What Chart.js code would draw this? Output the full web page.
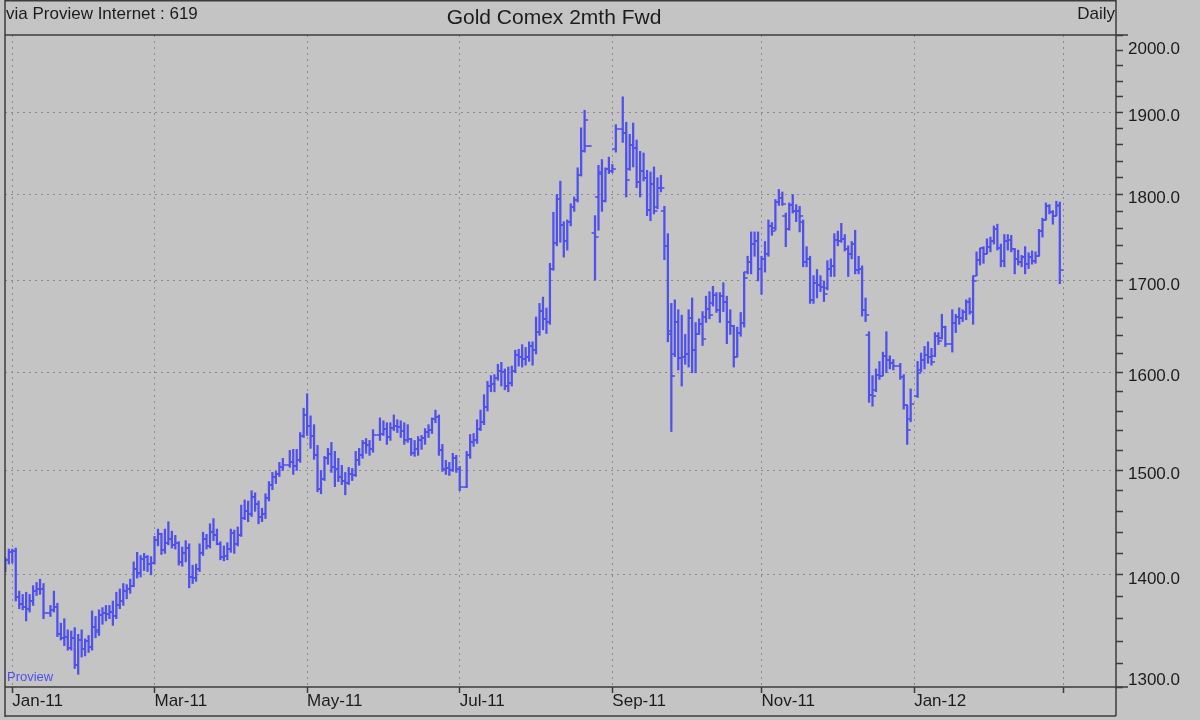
<!DOCTYPE html>
<html>
<head>
<meta charset="utf-8">
<title>Gold Comex 2mth Fwd</title>
<script src="https://cdn.jsdelivr.net/npm/chart.js@4.4.1/dist/chart.umd.min.js"></script>
<style>
  html, body { margin: 0; padding: 0; background: #c4c4c4; }
  #wrap { width: 1200px; height: 720px; }
</style>
</head>
<body>
<div id="wrap"><canvas id="myChart" width="1200" height="720"></canvas></div>
<script>
// Daily bars, one entry per weekday from 30-Dec-2010 to 29-Feb-2012 (null = no bar)
var opens = [
  1405,1414, // Dec-10
  1421,1422,1380,1373,1371,1369,1376,1385,1387,1387,null,1365,1368,1371,1346,1343,1344,1334,1343,1319,1341, // Jan-11
  1333,1340,1335,1353,1350,1363,1365,1364,1366,1362,1372,1376,1385,1387,1390,1405,1402,1415,1417,1410, // Feb-11
  1411,1433,1438,1423,1430,1434,1428,1430,1412,1420,1425,1398,1397,1405,1420,1434,1427,1440,1437,1429,1417,1418,1424, // Mar-11
  1439,1429,1437,1454,1460,1457,1474,1467,1455,1457,1473,1486,1493,1496,1503,null,1505,1508,1504,1510,1535, // Apr-11
  1556,1545,1535,1515,1482,1492,1512,1516,1503,1501,1493,1490,1488,1496,1495,1510,1515,1527,1525,1521,null,1536, // May-11
  1537,1542,1533,1543,1545,1544,1540,1530,1531,1517,1521,1530,1532,1539,1541,1552,1554,1520,1501,1502,1500,1512, // Jun-11
  1501,null,1484,1515,1528,1530,1542,1549,1564,1586,1588,1594,1602,1601,1586,1589,1602,1619,1617,1615,1617, // Jul-11
  1628,1624,1644,1667,1658,1654,1713,1743,1795,1764,1746,1767,1785,1793,1823,1852,1858,null,1755,1797,1825,1792,1830, // Aug-11
  1828,1855,null,1880,1874,1830,1860,1856,1815,1828,1820,1782,1813,1785,1808,1780,1740,1645,1620,1654,1616,1617, // Sep-11
  1620,1659,1624,1642,1652,1660,1669,1675,1684,1668,1683,1676,1654,1650,1617,1643,1653,1710,1721,1742,1745, // Oct-11
  1714,1725,1730,1763,1760,1791,1796,1775,1759,1788,1780,1781,1768,1721,1725,1679,1698,1695,1693,1692,1714,1717, // Nov-11
  1747,1746,1748,1736,1731,1742,1712,1713,1668,1640,1577,1582,1598,1597,1618,1613,1610,null,1607,1595,1566,1552, // Dec-11
  null,1576,1603,1613,1619,1617,1618,1639,1637,1649,null,1631,1653,1660,1659,1665,1676,1666,1706,1724,1737,1731, // Jan-12
  1739,1746,1759,1738,1723,1745,1747,1736,1725,1722,1727,1719,1727,1723,1728,1757,1770,1786,1779,1775,1788 // Feb-12
];
var highs = [
  1416,1424,
  1424,1425,1385,1382,1384,1382,1390,1393,1396,1392,null,1372,1385,1374,1356,1360,1350,1349,1352,1346,1350,
  1342,1345,1367,1362,1368,1370,1372,1372,1376,1384,1387,1392,1391,1396,1412,1421,1418,1420,1418,1417,
  1436,1443,1439,1443,1450,1441,1437,1431,1426,1432,1429,1409,1410,1429,1440,1438,1448,1453,1443,1431,1427,1430,1443,
  1442,1445,1466,1471,1470,1480,1478,1470,1463,1477,1489,1498,1499,1508,1512,null,1520,1521,1521,1538,1563,
  1578,1555,1546,1525,1500,1514,1522,1528,1519,1512,1505,1498,1503,1502,1519,1522,1530,1532,1530,1541,null,1553,
  1550,1548,1548,1556,1551,1550,1548,1546,1532,1530,1534,1535,1542,1546,1553,1561,1556,1526,1510,1508,1517,1515,
  1504,null,1519,1536,1537,1551,1561,1577,1591,1597,1598,1609,1611,1604,1606,1607,1624,1625,1630,1627,1633,
  1633,1660,1675,1682,1670,1720,1779,1800,1816,1768,1770,1789,1797,1832,1881,1903,1858,null,1775,1835,1842,1832,1845,
  1836,1885,null,1920,1888,1873,1887,1866,1852,1850,1829,1827,1833,1820,1823,1786,1754,1675,1679,1668,1662,1641,
  1668,1681,1654,1658,1666,1683,1688,1694,1687,1687,1698,1683,1668,1651,1649,1665,1710,1728,1756,1756,1756,
  1728,1745,1770,1767,1794,1806,1803,1778,1790,1800,1788,1786,1770,1739,1728,1706,1713,1706,1700,1723,1725,1754,
  1757,1766,1753,1740,1745,1758,1728,1717,1681,1644,1597,1604,1612,1622,1644,1618,1614,null,1610,1598,1566,1583,
  null,1612,1621,1628,1633,1626,1643,1643,1663,1650,null,1668,1663,1670,1668,1679,1681,1706,1733,1737,1739,1748,
  1750,1763,1765,1742,1753,1753,1752,1737,1735,1729,1739,1732,1734,1733,1759,1772,1790,1788,1781,1792,1791
];
var lows = [
  1403,1410,
  1411,1376,1369,1368,1358,1366,1372,1381,1382,1360,null,1362,1366,1344,1341,1336,1332,1332,1316,1311,1326,
  1327,1330,1332,1343,1345,1355,1358,1360,1354,1360,1369,1372,1378,1383,1389,1397,1398,1404,1403,1400,
  1410,1427,1419,1420,1428,1425,1424,1409,1408,1412,1388,1392,1394,1403,1418,1424,1425,1432,1428,1414,1413,1414,1421,
  1420,1427,1436,1452,1450,1455,1460,1448,1450,1453,1470,1481,1487,1494,1500,null,1503,1496,1500,1508,1533,
  1535,1522,1511,1479,1477,1490,1506,1498,1484,1489,1486,1476,1486,1490,1494,1505,1512,1517,1515,1518,null,1530,
  1535,1526,1530,1540,1538,1533,1526,1528,1515,1514,1515,1521,1526,1533,1537,1548,1515,1499,1496,1495,1499,1498,
  1480,null,1483,1512,1524,1527,1540,1546,1560,1580,1580,1592,1586,1582,1580,1586,1600,1607,1606,1608,1612,
  1608,1620,1640,1646,1642,1652,1712,1740,1744,1727,1735,1763,1780,1791,1822,1851,1858,null,1701,1758,1780,1791,1825,
  1826,1851,null,1863,1797,1829,1833,1808,1797,1816,1775,1769,1777,1783,1803,1724,1633,1539,1617,1603,1586,1609,
  1606,1600,1600,1641,1629,1654,1658,1672,1665,1654,1666,1631,1641,1606,1617,1639,1649,1708,1708,1728,1700,
  1685,1710,1728,1752,1758,1787,1787,1739,1758,1778,1768,1756,1716,1716,1675,1675,1681,1688,1677,1690,1705,1705,
  1740,1744,1734,1705,1725,1708,1708,1661,1655,1569,1565,1580,1593,1597,1600,1604,1603,null,1593,1562,1526,1549,
  null,1574,1601,1604,1610,1608,1617,1630,1636,1628,null,1622,1643,1652,1655,1657,1663,1652,1706,1718,1720,1731,
  1733,1742,1735,1716,1716,1735,1733,1708,1718,1716,1708,1714,1719,1720,1728,1750,1770,1777,1765,1775,1697
];
var closes = [
  1414,1421,
  1422,1380,1373,1371,1369,1376,1385,1387,1387,1365,null,1368,1371,1346,1343,1344,1334,1343,1319,1341,1333,
  1340,1335,1353,1348,1363,1365,1364,1366,1362,1372,1376,1385,1387,1390,1405,1402,1415,1417,1410,1411,
  1433,1438,1423,1430,1434,1428,1430,1412,1420,1425,1398,1397,1405,1420,1434,1427,1440,1437,1429,1417,1418,1424,1439,
  1429,1437,1454,1460,1457,1474,1467,1455,1457,1473,1486,1493,1496,1503,1505,null,1508,1504,1510,1535,1556,
  1545,1535,1515,1482,1492,1512,1516,1503,1501,1493,1490,1488,1496,1495,1510,1515,1527,1525,1521,1536,null,1537,
  1542,1533,1543,1545,1544,1540,1530,1531,1517,1521,1530,1532,1539,1541,1552,1554,1520,1501,1502,1500,1512,1501,
  1484,null,1515,1528,1530,1542,1549,1564,1586,1588,1594,1602,1601,1586,1589,1602,1619,1617,1615,1617,1628,
  1624,1644,1667,1658,1654,1713,1743,1795,1764,1746,1767,1785,1793,1823,1852,1891,1858,null,1750,1827,1792,1830,1828,
  1830,1879,null,1874,1817,1860,1856,1815,1828,1820,1782,1813,1780,1808,1808,1740,1641,1597,1654,1616,1617,1620,
  1659,1624,1642,1652,1636,1669,1662,1684,1668,1683,1676,1654,1650,1617,1643,1653,1703,1721,1742,1745,1714,
  1725,1730,1763,1757,1791,1796,1789,1759,1788,1780,1781,1775,1721,1725,1679,1698,1695,1693,1685,1714,1717,1747,
  1746,1748,1736,1731,1742,1712,1713,1668,1662,1577,1576,1598,1597,1618,1613,1610,1607,null,1595,1566,1541,1567,
  null,1600,1613,1619,1617,1611,1639,1634,1649,1631,null,1653,1660,1659,1665,1676,1666,1700,1724,1737,1731,1739,
  1746,1759,1738,1723,1745,1747,1736,1725,1722,1727,1719,1727,1723,1728,1757,1770,1786,1779,1775,1786,1712
];

// x axis: bar index of the first weekday of every second month
var monthTickIdx  = [2, 43, 87, 131, 175, 218, 262, 305];
var monthTickText = ['Jan-11', 'Mar-11', 'May-11', 'Jul-11', 'Sep-11', 'Nov-11', 'Jan-12', ''];

// y axis (log): labelled every 100, small ticks every 20
var yLabels = [1300, 1400, 1500, 1600, 1700, 1800, 1900, 2000];
var yMin = 1300, yMax = 2000, yMinorStep = 20;

var barColor = '#5050ee';
var bgColor = '#c4c4c4';
var lineColor = '#3c3c3c';
var gridColor = '#8a8a8a';
var textColor = '#1c1c1c';
var font = 'Liberation Sans';

// small canvases used as point styles for the open / close ticks
function tickImage(side) {
  var cv = document.createElement('canvas');
  cv.width = 9;
  cv.height = 2;
  var g = cv.getContext('2d');
  g.fillStyle = barColor;
  if (side === 'open') g.fillRect(1, 0.2, 3.6, 1.6);
  else g.fillRect(4.4, 0.2, 3.6, 1.6);
  return cv;
}

var rangeData = [], openData = [], closeData = [];
for (var i = 0; i < highs.length; i++) {
  if (highs[i] == null) continue;
  rangeData.push({ x: i, y: [lows[i], highs[i]] });
  openData.push({ x: i, y: opens[i] });
  closeData.push({ x: i, y: closes[i] });
}

var yTicks = [];
for (var v = yMin; v <= yMax; v += yMinorStep) yTicks.push(v);

const framePlugin = {
  id: 'frame',
  beforeDraw(chart) {
    const c = chart.ctx;
    c.save();
    c.fillStyle = bgColor;
    c.fillRect(0, 0, chart.width, chart.height);
    c.restore();
  },
  afterDraw(chart) {
    const c = chart.ctx, a = chart.chartArea;
    c.save();
    c.strokeStyle = lineColor;
    c.lineWidth = 1.5;
    c.beginPath();
    c.moveTo(a.left, 0.75); c.lineTo(a.right, 0.75);
    c.moveTo(a.left, 0); c.lineTo(a.left, 717);
    c.moveTo(a.right, 0); c.lineTo(a.right, 716);
    c.moveTo(a.left, a.top); c.lineTo(a.right + 12, a.top);
    c.moveTo(a.left, a.bottom); c.lineTo(a.right + 12, a.bottom);
    c.moveTo(a.left, 716); c.lineTo(a.right, 716);
    c.stroke();

    c.fillStyle = textColor;
    c.textBaseline = 'alphabetic';
    c.font = '17px "' + font + '"';
    c.textAlign = 'left';
    c.fillText('via Proview Internet : 619', 6, 19);
    c.textAlign = 'right';
    c.fillText('Daily', a.right - 1, 19);
    c.font = '21px "' + font + '"';
    c.textAlign = 'center';
    c.fillText('Gold Comex 2mth Fwd', 554, 24);

    c.fillStyle = barColor;
    c.font = '13px "' + font + '"';
    c.textAlign = 'left';
    c.fillText('Proview', 7, 681);
    c.restore();
  }
};

var ctx = document.getElementById('myChart');
var myChart = new Chart(ctx, {
  type: 'bar',
  data: {
    datasets: [{
      label: 'High-Low',
      data: rangeData,
      backgroundColor: barColor,
      borderWidth: 0,
      barThickness: 1.6
    }, {
      type: 'scatter',
      label: 'Open',
      data: openData,
      pointStyle: tickImage('open'),
      pointRadius: 4
    }, {
      type: 'scatter',
      label: 'Close',
      data: closeData,
      pointStyle: tickImage('close'),
      pointRadius: 4
    }]
  },
  options: {
    responsive: false,
    devicePixelRatio: 1,
    animation: false,
    events: [],
    layout: { padding: { left: 5, top: 35, right: 0, bottom: 0 } },
    plugins: {
      legend: { display: false },
      tooltip: { enabled: false }
    },
    scales: {
      x: {
        type: 'linear',
        bounds: 'data',
        offset: false,
        min: -0.1,
        max: 320.2,
        afterBuildTicks: function (s) { s.ticks = monthTickIdx.map(function (t) { return { value: t }; }); },
        afterFit: function (s) { s.height = 33; },
        ticks: {
          autoSkip: false,
          maxRotation: 0,
          align: 'start',
          padding: -2,
          color: textColor,
          font: { family: font, size: 17 },
          callback: function (val, idx) { return monthTickText[idx]; }
        },
        grid: {
          offset: false,
          color: gridColor,
          lineWidth: 1,
          tickLength: 6,
          tickColor: lineColor,
          tickWidth: 1.5
        },
        border: { display: false, dash: [2, 4] }
      },
      y: {
        type: 'logarithmic',
        position: 'right',
        min: yMin,
        max: yMax,
        afterBuildTicks: function (s) { s.ticks = yTicks.map(function (t) { return { value: t }; }); },
        afterFit: function (s) { s.width = 84; },
        ticks: {
          autoSkip: false,
          padding: 5,
          labelOffset: 4,
          color: textColor,
          font: { family: font, size: 17 },
          callback: function (val) {
            if (yLabels.indexOf(val) < 0) return '';
            var txt = val.toFixed(1);
            if (val === yMax) return ['', txt];
            if (val === yMin) return [txt, ''];
            return txt;
          }
        },
        grid: {
          color: function (c) {
            var t = c.tick && c.tick.value;
            return (yLabels.indexOf(t) >= 0 && t !== yMin && t !== yMax) ? gridColor : 'transparent';
          },
          lineWidth: 1,
          tickLength: 7,
          tickColor: lineColor,
          tickWidth: 1.5
        },
        border: { display: false, dash: [2, 4] }
      }
    }
  },
  plugins: [framePlugin]
});
</script>
</body>
</html>
